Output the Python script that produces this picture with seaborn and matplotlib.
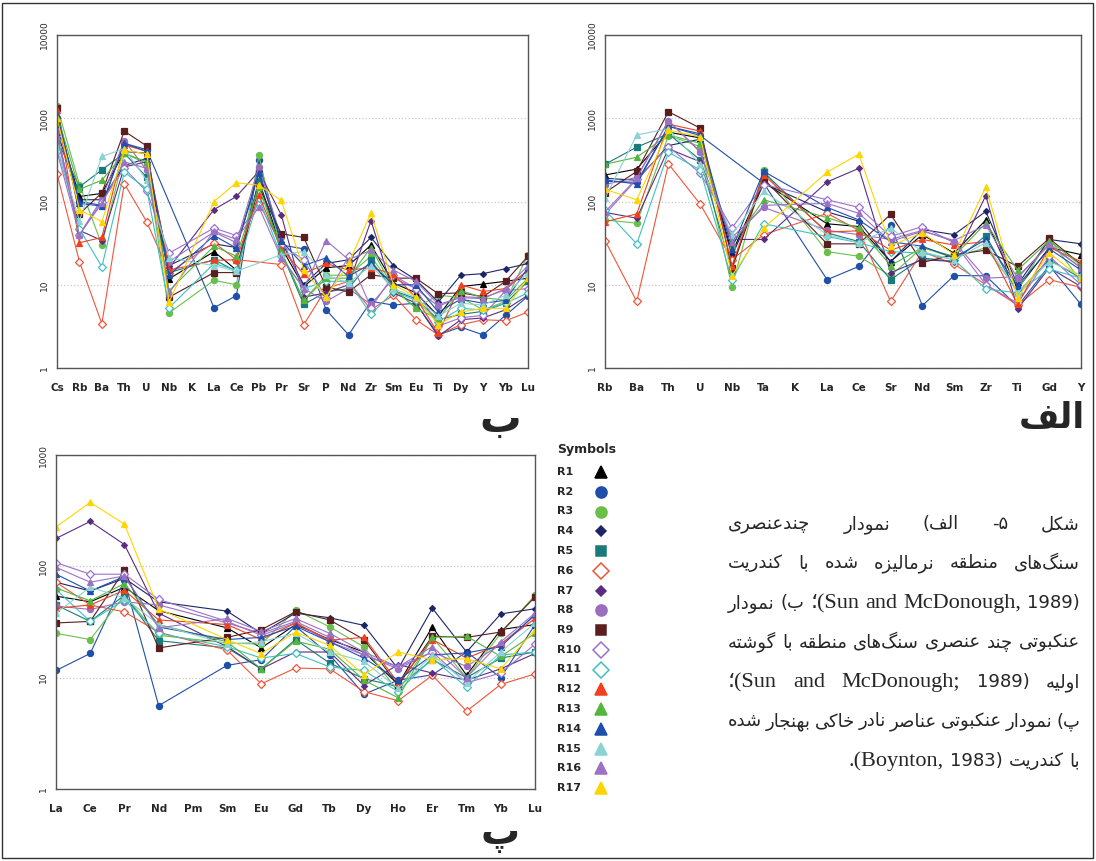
import numpy as np
import pandas as pd
import matplotlib
matplotlib.use("Agg")
import matplotlib.pyplot as plt
from matplotlib.patches import Rectangle
from matplotlib.ticker import NullLocator
import seaborn as sns

nan = np.nan

SAMPLES = [f"R{i}" for i in range(1, 18)]

# panel "ب": primitive mantle normalised spider diagram
PM_ELEMENTS = ["Cs", "Rb", "Ba", "Th", "U", "Nb", "K", "La", "Ce", "Pb", "Pr",
               "Sr", "P", "Nd", "Zr", "Sm", "Eu", "Ti", "Dy", "Y", "Yb", "Lu"]
PM_VALUES = [
    [900, 115, 125, 400, 380, 11.8, nan, 25, 15, 180, 28, 9.5, 16, 17, 30, 10.5, 8, 4.2, 9.5, 10.2, 11, 12],      # R1
    [1000, 100, 90, 500, 420, nan, nan, 5.3, 7.4, 315, 30, 27, 5.0, 2.5, 6.3, 5.7, 6, 2.5, 3.1, 2.5, 4.3, 7.3],  # R2
    [1400, 160, 30, 380, 285, 4.6, nan, 11.3, 10, 360, 24, 6.5, 13, 13, 22, 9, 5.3, 7.5, 7, 5, 6.3, 23],         # R3
    [700, 105, 105, 270, 330, 17, nan, 31, 28, 230, 33, 10, 18, 20, 37, 17, 11.5, 6.2, 13, 13.6, 15.6, 18],      # R4
    [550, 150, 240, 380, 196, 14, nan, 20, 14.5, 175, 25, 5.8, 8.2, 9, 19.6, 8.5, 6.8, 3.8, 4.4, 4.8, 6, 11],    # R5
    [215, 19, 3.4, 164, 57, 14, nan, 32, 20, nan, 17.5, 3.3, 9, 11, 5, 7.5, 3.8, 2.5, 3.3, 3.8, 3.7, 4.7],        # R6
    [650, 45, 34, 260, 300, 16, nan, 80, 115, 230, 69, 7.1, 8, 10, 59, 8, 6, 2.4, 3.8, 4, 5, 7.5],               # R7
    [700, 40, 108, 540, 237, 19, nan, 43, 32, 260, 37, 9, 6.3, 9, 5.8, 12, 9, 5.5, 7.2, 7, 8.7, 15],             # R8
    [1320, 71, 127, 700, 465, 7.1, nan, 14, 14, 150, 41, 37, 9.4, 8.2, 13.2, 12, 12, 7.8, 8, 7.2, 11, 22],       # R9
    [400, 40, 100, 250, 132, 24, nan, 48, 39, 95, 30, 20, 7, 22, 5.3, 13, 9, 3.2, 4, 4.3, 8.5, 9],               # R10
    [450, 47, 16.4, 225, 142, 5.3, nan, 18, 15, 110, 22, 9, 11, 11, 4.4, 8.3, 6.5, 3.6, 5.2, 5, 6, 8],           # R11
    [1250, 32, 37, 480, 400, 15, nan, 19.6, 20, 119, 27, 13.5, 18, 15, 16, 13.5, 7, 2.6, 10, 8.3, 9, 15],        # R12
    [1100, 140, 180, 380, 300, 8.5, nan, 29, 22, 150, 25, 6.5, 12, 12, 28, 9, 5.2, 3.9, 8.5, 7, 6.5, 12],        # R13
    [1100, 95, 88, 500, 400, 13, nan, 39, 27.5, 220, 34, 17, 21, 12.6, 18, 10, 10, 4.7, 6.7, 6, 6.5, 16],        # R14
    [450, 59, 348, 430, 180, 21, nan, 17, 14.5, nan, 23, 25, 13, 10.5, 17, 9, 7, 4.2, 6, 5.7, 7.5, 14],          # R15
    [600, 40, 95, 300, 250, 8, nan, 44, 35, 86, 21, 9, 34, 20, 26, 15, 11, 5.8, 7, 6.8, 9, 17],                  # R16
    [1000, 80, 57, 410, 375, 6.2, nan, 100, 168, 157, 103, 15, 7.1, 18, 73, 10, 7.2, 3.3, 4.7, 5.2, 5.2, 12],    # R17
]

# panel "الف": chondrite normalised multi-element diagram
CH_ELEMENTS = ["Rb", "Ba", "Th", "U", "Nb", "Ta", "K", "La", "Ce", "Sr",
               "Nd", "Sm", "Zr", "Ti", "Gd", "Y"]
CH_VALUES = [
    [208, 245, 680, 580, 24, 170, nan, 54, 50, 19, 40, 24, 60, 9, 28, 23],             # R1
    [175, 170, 800, 620, nan, 166, nan, 11.5, 16.6, 52, 5.6, 12.9, 12.8, 5.5, 17, 5.8],  # R2
    [60, 55, 620, 457, 9.5, 236, nan, 25, 22, 12.8, 28, 21, 28, 8.5, 36, 11],          # R3
    [190, 180, 470, 560, 22, 165, nan, 75, 58, 19, 46, 40, 76, 10, 35, 31],            # R4
    [280, 450, 650, 316, 15, 225, nan, 42, 33, 11.5, 21, 19, 39, 8, 20, 12],           # R5
    [34, 6.3, 283, 93, 20, 40, nan, 72, 45, 6.3, 25, 17.7, 10, 5.7, 11.5, 9.3],        # R6
    [74, 63, 430, 300, 35, 35, nan, 172, 250, 14, 20, 19, 118, 5.1, 16, 9.5],          # R7
    [160, 195, 935, 390, 37, 85, nan, 45, 40, 35, 45, 33, 12, 12.5, 30, 16],           # R8
    [128, 230, 1200, 760, 16, 187, nan, 31, 31, 70, 18.5, 23, 26, 16.6, 36, 17.5],     # R9
    [70, 185, 457, 219, 48, 160, nan, 105, 85, 38, 50, 32, 10, 6, 22, 10],             # R10
    [79, 31, 390, 240, 11.5, 54, nan, 38, 32, 25, 24, 20, 8.9, 8, 15.4, 12],           # R11
    [57, 71, 850, 700, 17, 209, nan, 43, 44.5, 26, 35, 30, 33, 5.8, 28, 19],           # R12
    [280, 340, 630, 500, 30, 105, nan, 64, 48, 17, 28, 22, 55, 15, 34, 17],            # R13
    [182, 162, 800, 650, 27, 230, nan, 85, 60, 33, 29, 21, 35, 9.7, 27, 15],           # R14
    [110, 630, 750, 280, 40, 132, nan, 40, 32, 48, 25, 20, 32, 8, 19, 13],             # R15
    [75, 190, 935, 400, 33, 90, nan, 95, 72, 33, 44, 34, 52, 12, 31, 16],              # R16
    [140, 105, 720, 600, 12.8, 48, nan, 225, 370, 29.5, 42, 23, 150, 7, 24, 12],       # R17
]

# panel "پ": chondrite normalised REE diagram
REE_ELEMENTS = ["La", "Ce", "Pr", "Nd", "Pm", "Sm", "Eu", "Gd", "Tb", "Dy",
                "Ho", "Er", "Tm", "Yb", "Lu"]
REE_VALUES = [
    [54, 48, 65, 40, nan, 28, 18.5, 30, 22, 17, 8.7, 28.6, 10.5, 27, 30],           # R1
    [11.6, 16.5, 75, 5.6, nan, 12.9, 14.5, 29, 16, 7.1, 9.5, 10.6, 17, 10, 30],     # R2
    [25, 22, 55, 24, nan, 20.5, 20, 40.5, 28.6, 18.9, 7.5, 23, 10, 25, 55],         # R3
    [72, 60, 78, 48, nan, 39.6, 25, 38, 34.5, 29.5, 12, 42, 17, 37.4, 41.6],        # R4
    [45, 32, 55, 21.5, nan, 18.5, 12, 22, 13.5, 9.8, 8.3, 14.5, 10, 15, 17],        # R5
    [72, 45, 39, 25.6, nan, 17.7, 8.8, 12.2, 12, 7.5, 6.2, 10.5, 5.0, 8.7, 10.8],   # R6
    [178, 253, 157, 38, nan, 19, 12, 17, 17, 8.5, 13.1, 11, 9.5, 12, 16.5],         # R7
    [44, 41, 48, 45, nan, 31, 25, 32, 23, 16, 12, 17, 12.6, 20, 36],                # R8
    [31, 32, 92, 18.5, nan, 23, 27, 39, 33, 22, 8.5, 23.6, 23, 25.7, 53],           # R9
    [108, 85, 85, 50.5, nan, 32, 24, 31, 21, 16, 12.5, 17, 9, 11, 20],              # R10
    [62, 32, 50, 25, nan, 19, 15, 16.5, 12.5, 11.6, 7.5, 15, 8.2, 16, 17],          # R11
    [42, 45, 61, 33, nan, 30, 22, 31, 21.7, 23, 9, 22, 15, 20, 34],                 # R12
    [64, 49, 70, 30, nan, 21, 12, 21.3, 18, 9.5, 6.6, 23, 23.6, 15.5, 25],          # R13
    [85, 60, 81, 28.5, nan, 22, 23, 29, 21, 15, 9.5, 16, 16.7, 19, 37],             # R14
    [38, 65, 52, 30, nan, 20, 21, 25, 17, 14, 8, 16, 9, 17, 31],                    # R15
    [98, 72, 82, 28, nan, 34, 26, 34, 25, 17, 12.5, 19, 10, 21, 38],                # R16
    [226, 375, 239, 41.5, nan, 22, 16.4, 25.6, 19.5, 10.6, 17, 14.5, 14.8, 12, 27], # R17
]

# styles per sample
COLORS = ["#000000", "#1f4fa8", "#6abf4b", "#1c2566", "#1a7a7a", "#f0553a",
          "#5a2d82", "#9a6dbf", "#5a1e1e", "#9d6fcf", "#3fc0c0", "#f04020",
          "#55b53f", "#1e4fae", "#8dd2d2", "#9b72c4", "#ffd500"]
MARKERS = ["^", "o", "o", "D", "s", "D", "D", "o", "s", "D", "D",
           "^", "^", "^", "^", "^", "^"]
HOLLOW = [False, False, False, False, False, True, False, False, False,
          True, True, False, False, False, False, False, False]
SMALL = [False, False, False, True, False, False, True, False, False,
         False, False, False, False, False, False, False, False]

# caption, Persian (logical order)
CAPTION_FA = {
    "l1": ["شکل", "۵-", "الف)", "نمودار", "چندعنصری"],
    "l2": ["سنگ\u200cهای", "منطقه", "نرمالیزه", "شده", "با", "کندریت"],
    "l3": ["ب)", "نمودار"],
    "l4": ["عنکبوتی", "چند", "عنصری", "سنگ\u200cهای", "منطقه", "با", "گوشته"],
    "l5": ["اولیه"],
    "l6": ["پ)", "نمودار", "عنکبوتی", "عناصر", "نادر", "خاکی", "بهنجار", "شده"],
    "l7": ["با", "کندریت"],
}
CITE_1 = ["(Sun", "and", "McDonough,", "1989)"]
CITE_2 = ["(Sun", "and", "McDonough;", "1989)"]
CITE_3 = ["(Boynton,", "1983)."]
PANEL_LABELS = ["ب", "الف", "پ"]

# --- minimal Arabic-script shaping (matplotlib has no text shaping) ---
FORMS = {
    "ا": (0xFE8D, 0xFE8E, None, None), "ب": (0xFE8F, 0xFE90, 0xFE91, 0xFE92),
    "پ": (0xFB56, 0xFB57, 0xFB58, 0xFB59), "ت": (0xFE95, 0xFE96, 0xFE97, 0xFE98),
    "ج": (0xFE9D, 0xFE9E, 0xFE9F, 0xFEA0), "چ": (0xFB7A, 0xFB7B, 0xFB7C, 0xFB7D),
    "خ": (0xFEA5, 0xFEA6, 0xFEA7, 0xFEA8), "د": (0xFEA9, 0xFEAA, None, None),
    "ر": (0xFEAD, 0xFEAE, None, None), "ز": (0xFEAF, 0xFEB0, None, None),
    "س": (0xFEB1, 0xFEB2, 0xFEB3, 0xFEB4), "ش": (0xFEB5, 0xFEB6, 0xFEB7, 0xFEB8),
    "ص": (0xFEB9, 0xFEBA, 0xFEBB, 0xFEBC), "ط": (0xFEC1, 0xFEC2, 0xFEC3, 0xFEC4),
    "ع": (0xFEC9, 0xFECA, 0xFECB, 0xFECC), "ف": (0xFED1, 0xFED2, 0xFED3, 0xFED4),
    "ق": (0xFED5, 0xFED6, 0xFED7, 0xFED8), "ک": (0xFB8E, 0xFB8F, 0xFB90, 0xFB91),
    "گ": (0xFB92, 0xFB93, 0xFB94, 0xFB95), "ل": (0xFEDD, 0xFEDE, 0xFEDF, 0xFEE0),
    "م": (0xFEE1, 0xFEE2, 0xFEE3, 0xFEE4), "ن": (0xFEE5, 0xFEE6, 0xFEE7, 0xFEE8),
    "و": (0xFEED, 0xFEEE, None, None), "ه": (0xFEE9, 0xFEEA, 0xFEEB, 0xFEEC),
    "ی": (0xFBFC, 0xFBFD, 0xFBFE, 0xFBFF),
}
MIRROR = {"(": ")", ")": "("}


def shape(word):
    out = []
    for i, ch in enumerate(word):
        if ch == "\u200c":
            continue
        if ch not in FORMS:
            out.append(ch)
            continue
        prev = word[i - 1] if i > 0 else ""
        nxt = word[i + 1] if i + 1 < len(word) else ""
        join_prev = prev in FORMS and FORMS[prev][2] is not None
        join_next = nxt in FORMS and FORMS[ch][2] is not None
        iso, fin, ini, med = FORMS[ch]
        if join_prev and join_next:
            code = med
        elif join_prev:
            code = fin
        elif join_next:
            code = ini
        else:
            code = iso
        out.append(chr(code))
    return "".join(out)


def vis(word):
    """Shape a Persian word and put it in visual (left-to-right) order."""
    return "".join(MIRROR.get(c, c) for c in shape(word)[::-1])


def vis_words(words):
    return [vis(w) for w in reversed(words)]


def draw_panel(ax, elements, values, ymax):
    pos = np.arange(len(elements))
    for name, row, color, marker, hollow, small in zip(SAMPLES, values, COLORS, MARKERS, HOLLOW, SMALL):
        df = pd.DataFrame({"pos": pos, "val": row}).dropna()
        size = 3.0 if small else (3.8 if marker == "s" else 4.4)
        sns.lineplot(data=df, x="pos", y="val", ax=ax, color=color, linewidth=0.8,
                     marker=marker, markersize=size, markeredgewidth=0.9,
                     markeredgecolor=color, markerfacecolor="white" if hollow else color,
                     errorbar=None, legend=False)
    ax.set_yscale("log")
    ax.set_ylim(1, ymax)
    ax.set_xlim(0, len(elements) - 1)
    ax.set_xticks(pos)
    ax.set_xticklabels(elements, fontsize=7.5, fontweight="bold")
    yt = [10 ** k for k in range(int(np.log10(ymax)) + 1)]
    ax.set_yticks(yt)
    ax.set_yticklabels([str(v) for v in yt], rotation=90, va="center", fontsize=6.5)
    ax.yaxis.set_minor_locator(NullLocator())
    ax.tick_params(axis="x", length=4, width=0.8, color="#444444", pad=7)
    ax.tick_params(axis="y", length=3, width=0.8, color="#444444", pad=3)
    ax.set_xlabel("")
    ax.set_ylabel("")
    ax.grid(False)
    ax.yaxis.grid(True, which="major", linestyle=":", color="#c8c8c8", linewidth=0.9)
    for sp in ax.spines.values():
        sp.set_color("#555555")
        sp.set_linewidth(1.0)


sns.set_style("white")
plt.rcParams["font.family"] = ["DejaVu Sans"]

W, H = 1096, 861
fig = plt.figure(figsize=(W / 100, H / 100), dpi=100)

ax_pm = fig.add_axes([57 / W, 1 - 368 / H, 471 / W, 333 / H])
ax_ch = fig.add_axes([605 / W, 1 - 368 / H, 476 / W, 333 / H])
ax_ree = fig.add_axes([56 / W, 1 - 789 / H, 479 / W, 334 / H])

draw_panel(ax_pm, PM_ELEMENTS, PM_VALUES, 10000)
draw_panel(ax_ch, CH_ELEMENTS, CH_VALUES, 10000)
draw_panel(ax_ree, REE_ELEMENTS, REE_VALUES, 1000)

# overlay in pixel units for legend, labels and caption
lax = fig.add_axes([0, 0, 1, 1], zorder=-1)
lax.set_xlim(0, W)
lax.set_ylim(H, 0)
lax.axis("off")
lax.patch.set_alpha(0)

lax.add_patch(Rectangle((2, 3), W - 5, H - 6, fill=False, ec="#333333", lw=1.0))

# legend "Symbols"
lax.text(557, 450, "Symbols", fontsize=9, fontweight="bold", va="center", ha="left")
for i, (name, color, marker, hollow, small) in enumerate(zip(SAMPLES, COLORS, MARKERS, HOLLOW, SMALL)):
    y = 472 + 19.75 * i
    lax.text(557, y, name, fontsize=8, fontweight="bold", va="center", ha="left")
    size = 5.5 if small else (6.5 if marker == "s" else 8)
    lax.plot([601], [y], linestyle="none", marker=marker, markersize=size, color=color,
             markeredgewidth=1.1, markerfacecolor="white" if hollow else color)

# panel labels
for label, (x, y), fs in zip(PANEL_LABELS, [(500, 420), (1052, 418), (500, 834)], [30, 25, 28]):
    lax.text(x, y, vis(label), fontsize=fs, fontweight="bold", ha="center", va="center",
             family="DejaVu Sans")

# caption (right-to-left, justified)
fa = CAPTION_FA
lines = [
    vis_words(fa["l1"]),
    vis_words(fa["l2"]),
    vis_words(fa["l3"])[:1] + [vis_words(fa["l3"])[1], "؛" + CITE_1[0]] + CITE_1[1:],
    vis_words(fa["l4"]),
    ["؛" + CITE_2[0]] + CITE_2[1:] + vis_words(fa["l5"]),
    vis_words(fa["l6"]),
    [".(" + CITE_3[0][1:], CITE_3[1][:-1]] + vis_words(fa["l7"]),
]
renderer = fig.canvas.get_renderer()
x0, x1 = 728, 1080
for i, toks in enumerate(lines):
    yb = 529 + 39.5 * i
    texts = []
    for t in toks:
        if any(c.isascii() and c.isalpha() for c in t):
            texts.append(lax.text(0, yb, t, fontsize=16, va="baseline", ha="left",
                                  family=["Liberation Serif", "DejaVu Sans"]))
        else:
            texts.append(lax.text(0, yb, t, fontsize=13, va="baseline", ha="left",
                                  family="DejaVu Sans"))
    widths = [t.get_window_extent(renderer).width for t in texts]
    if i < len(lines) - 1:
        gap = (x1 - x0 - sum(widths)) / (len(texts) - 1)
        x = x0
    else:
        gap = 6
        x = x1 - sum(widths) - gap * (len(texts) - 1)
    for t, w in zip(texts, widths):
        t.set_x(x)
        x += w + gap

fig.savefig("out.png", dpi=100)
